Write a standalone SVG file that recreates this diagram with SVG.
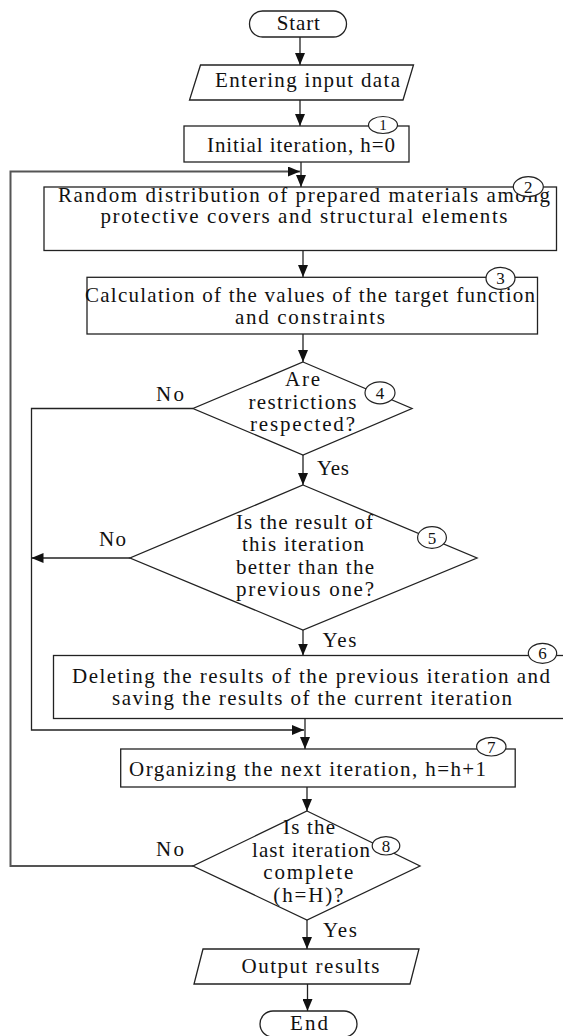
<svg xmlns="http://www.w3.org/2000/svg" width="563" height="1036" viewBox="0 0 563 1036">
<defs>
<style>
.shape{fill:#fff;stroke:#222;stroke-width:1.3}
.badge{fill:#fff;stroke:#222;stroke-width:1.2}
.t{font-family:"Liberation Serif","Times New Roman",serif;font-size:21px;fill:#111;text-anchor:middle}
.n{font-family:"Liberation Serif","Times New Roman",serif;font-size:17px;fill:#111;text-anchor:middle}
.c{fill:none;stroke:#222;stroke-width:1.3}
.loop{fill:none;stroke:#555;stroke-width:2}
</style>
<marker id="arr" markerUnits="userSpaceOnUse" markerWidth="12" markerHeight="10" refX="12" refY="5" orient="auto">
<path d="M0,0 L12,5 L0,10 z" fill="#111"/>
</marker>
</defs>
<rect width="563" height="1036" fill="#fff"/>
<g id="connectors">
<line class="c" x1="300" y1="37" x2="300" y2="65" marker-end="url(#arr)"/>
<line class="c" x1="300" y1="100" x2="300" y2="126" marker-end="url(#arr)"/>
<line class="c" x1="301" y1="162" x2="301" y2="187" marker-end="url(#arr)"/>
<line class="c" x1="303" y1="251" x2="303" y2="277" marker-end="url(#arr)"/>
<line class="c" x1="303" y1="334" x2="303" y2="362" marker-end="url(#arr)"/>
<line class="c" x1="303" y1="455" x2="303" y2="485" marker-end="url(#arr)"/>
<line class="c" x1="303" y1="630" x2="303" y2="655.5" marker-end="url(#arr)"/>
<line class="c" x1="305" y1="718.5" x2="305" y2="749" marker-end="url(#arr)"/>
<line class="c" x1="307" y1="787" x2="307" y2="811" marker-end="url(#arr)"/>
<line class="c" x1="307" y1="920" x2="307" y2="949" marker-end="url(#arr)"/>
<line class="c" x1="307.5" y1="984" x2="307.5" y2="1011" marker-end="url(#arr)"/>
<polyline class="c" points="193,408.5 31.5,408.5 31.5,730 304,730" marker-end="url(#arr)"/>
<line class="c" x1="130" y1="558" x2="31.5" y2="558" marker-end="url(#arr)"/>
<polyline class="loop" points="193,866 10.5,866 10.5,171.5 300,171.5" marker-end="url(#arr)"/>
</g>
<g id="start">
<rect class="shape" x="249.5" y="11" width="97" height="26" rx="13"/>
<text class="t" x="298.3" y="30" textLength="43">Start</text>
</g>
<g id="input">
<polygon class="shape" points="200.5,65 413.5,65 403,100 189.5,100"/>
<text class="t" x="307.5" y="87" textLength="185">Entering input data</text>
</g>
<g id="n1">
<rect class="shape" x="184" y="126" width="225" height="36"/>
<text class="t" x="301" y="151.5" textLength="188">Initial iteration, h=0</text>
<ellipse class="badge" cx="383" cy="125" rx="14.5" ry="8.5"/>
<text class="n" x="383" y="130" style="font-size:15px">1</text>
</g>
<g id="n2">
<rect class="shape" x="44" y="187" width="512.5" height="63.5"/>
<text class="t" x="304" y="202" textLength="492">Random distribution of prepared materials among</text>
<text class="t" x="304" y="223" textLength="407">protective covers and structural elements</text>
<ellipse class="badge" cx="528.3" cy="186.7" rx="15" ry="10"/>
<text class="n" x="528.3" y="192.5">2</text>
</g>
<g id="n3">
<rect class="shape" x="87" y="277.3" width="450.5" height="56.7"/>
<text class="t" x="310" y="302" textLength="450">Calculation of the values of the target function</text>
<text class="t" x="310" y="323.5" textLength="150">and constraints</text>
<ellipse class="badge" cx="500.5" cy="278.3" rx="14.5" ry="11"/>
<text class="n" x="500.5" y="284.3">3</text>
</g>
<g id="n4">
<polygon class="shape" points="303,362 412,408.5 303,455 193,408.5"/>
<text class="t" x="302.5" y="385.5" textLength="35">Are</text>
<text class="t" x="302.5" y="408.5" textLength="108">restrictions</text>
<text class="t" x="302.5" y="430.5" textLength="105">respected?</text>
<ellipse class="badge" cx="380" cy="392.8" rx="15" ry="11"/>
<text class="n" x="380" y="398.8">4</text>
</g>
<g id="labels">
<text class="t" x="170" y="400.5" textLength="28">No</text>
<text class="t" x="333" y="474.5" textLength="32">Yes</text>
<text class="t" x="112.5" y="545.5" textLength="27">No</text>
<text class="t" x="339.5" y="646.5" textLength="34">Yes</text>
<text class="t" x="170" y="855.5" textLength="28">No</text>
<text class="t" x="340" y="936.5" textLength="34">Yes</text>
</g>
<g id="n5">
<polygon class="shape" points="303,485 477,558 303,630 130,558"/>
<text class="t" x="304.5" y="528.5" textLength="137">Is the result of</text>
<text class="t" x="303" y="550.5" textLength="122">this iteration</text>
<text class="t" x="305" y="573.5" textLength="138">better than the</text>
<text class="t" x="305" y="595.5" textLength="138">previous one?</text>
<ellipse class="badge" cx="432" cy="537.5" rx="14.4" ry="10.8"/>
<text class="n" x="432" y="543.5">5</text>
</g>
<g id="n6">
<rect class="shape" x="53.5" y="655.5" width="515" height="63"/>
<text class="t" x="311" y="683" textLength="478">Deleting the results of the previous iteration and</text>
<text class="t" x="312" y="705" textLength="400">saving the results of the current iteration</text>
<ellipse class="badge" cx="542.5" cy="653.3" rx="14.2" ry="10"/>
<text class="n" x="542.5" y="659.3">6</text>
</g>
<g id="n7">
<rect class="shape" x="120.7" y="749" width="394.5" height="38"/>
<text class="t" x="307.6" y="775.5" textLength="357">Organizing the next iteration, h=h+1</text>
<ellipse class="badge" cx="491.3" cy="746.7" rx="14.7" ry="9.3"/>
<text class="n" x="491.3" y="752.7">7</text>
</g>
<g id="n8">
<polygon class="shape" points="307,811 420,866 307,920 193,866"/>
<text class="t" x="309" y="833.5" textLength="52">Is the</text>
<text class="t" x="311" y="856.5" textLength="118">last iteration</text>
<text class="t" x="308.3" y="878.5" textLength="90">complete</text>
<text class="t" x="308.3" y="901.5" textLength="70">(h=H)?</text>
<ellipse class="badge" cx="386" cy="845.8" rx="13.8" ry="9.2"/>
<text class="n" x="386" y="851.8">8</text>
</g>
<g id="output">
<polygon class="shape" points="203,949 419,949 410,984 194,984"/>
<text class="t" x="310.5" y="972.5" textLength="138">Output results</text>
</g>
<g id="end">
<rect class="shape" x="260" y="1011" width="97" height="26" rx="13"/>
<text class="t" x="309" y="1029.5" textLength="38">End</text>
</g>
</svg>
